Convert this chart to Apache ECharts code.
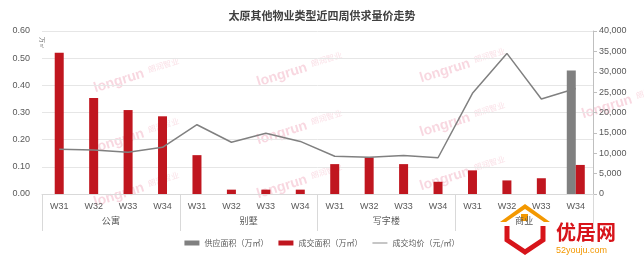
<!DOCTYPE html>
<html>
<head>
<meta charset="utf-8">
<script src="https://cdn.jsdelivr.net/npm/echarts@6/dist/echarts.min.js"></script>
<style>html,body{margin:0;padding:0;background:#fff}#c{width:644px;height:266px}</style>
</head>
<body>
<div id="c"></div>
<script>
const weeks = ['W31','W32','W33','W34','W31','W32','W33','W34','W31','W32','W33','W34','W31','W32','W33','W34'];
const groups = ['公寓','别墅','写字楼','商业'];
const supplyArea = [null,null,null,null,null,null,null,null,null,null,null,null,null,null,null,0.455];
const dealArea = [0.52,0.353,0.309,0.286,0.143,0.016,0.016,0.016,0.11,0.135,0.11,0.045,0.087,0.05,0.058,0.107];
const avgPrice = [11000,10800,10250,11450,17000,12700,14900,12900,9250,9000,9450,8900,24700,34500,23300,25900];
const leftTicks = [0,0.1,0.2,0.3,0.4,0.5,0.6];
const rightTicks = [0,5000,10000,15000,20000,25000,30000,35000,40000];

const nameSupply = '供应面积（万㎡）';
const nameDeal = '成交面积（万㎡）';
const namePrice = '成交均价（元/㎡）';

// split deal series: categories with supply go side by side, others centered
const dealPaired = dealArea.map((v,i)=> supplyArea[i] != null ? v : null);
const dealAlone = dealArea.map((v,i)=> supplyArea[i] != null ? null : v);

const RED = '#C0161F', GRAY = '#808080';
const labelColor = '#595959';

const wm = [];
const wmPos = [[92,82],[255,76],[418,72],[92,142],[255,134],[418,126],[92,196],[255,188],[418,180],[580,108]];
wmPos.forEach(p=>{
  wm.push({type:'text', x:p[0], y:p[1], rotation:0.3, silent:true,
    style:{text:'longrun', fill:'rgba(236,140,165,0.35)', font:'bold 14px "Liberation Sans", Arial'}});
  wm.push({type:'text', x:p[0]+55, y:p[1]-16, rotation:0.3, silent:true,
    style:{text:'朗润智业', fill:'rgba(236,140,165,0.28)', font:'8px "Noto Sans CJK SC"'}});
});

const chart = echarts.init(document.getElementById('c'));
chart.setOption({
  animation:false,
  title:{text:'太原其他物业类型近四周供求量价走势', left:'center', top:5,
    textStyle:{fontSize:11, fontWeight:'bold', color:'#404040', fontFamily:'"Noto Sans CJK SC"'}},
  grid:{left:42, right:51, top:31, bottom:72},
  legend:{bottom:14, left:'center', itemWidth:15, itemHeight:5, itemGap:10,
    textStyle:{fontSize:8, color:labelColor, fontFamily:'"Noto Sans CJK SC"'},
    data:[{name:nameSupply, icon:'rect'},{name:nameDeal, icon:'rect'},
      {name:namePrice, icon:'path://M0,2H20V3.2H0Z', itemStyle:{color:GRAY}}]},
  xAxis:[
    {type:'category', data:weeks, gridIndex:0, position:'bottom',
      axisLine:{lineStyle:{color:'#D9D9D9'}}, axisTick:{show:false},
      axisLabel:{interval:0, margin:8, fontSize:9, color:labelColor, fontFamily:'"Liberation Sans", Arial'}},
    {type:'category', data:weeks, gridIndex:0, show:false},
    {type:'category', data:groups, gridIndex:0, position:'bottom',
      axisLine:{show:false},
      axisTick:{show:true, interval:0, length:37, lineStyle:{color:'#D9D9D9'}},
      axisLabel:{interval:0, margin:22, fontSize:9, color:labelColor, fontFamily:'"Noto Sans CJK SC"'},
      splitLine:{show:false}}
  ],
  yAxis:[
    {type:'value', min:leftTicks[0], max:leftTicks[leftTicks.length-1], interval:0.1,
      name:'万㎡', nameLocation:'end', nameRotate:-90, nameGap:-6,
      nameTextStyle:{fontSize:6, color:labelColor, padding:[0,0,0,0], align:'left'},
      axisLine:{show:false}, axisTick:{show:false},
      axisLabel:{formatter:v=>v.toFixed(2), fontSize:9, color:labelColor, margin:12, fontFamily:'"Liberation Sans", Arial'},
      splitLine:{lineStyle:{color:'#E6E6E6'}}},
    {type:'value', min:rightTicks[0], max:rightTicks[rightTicks.length-1], interval:5000,
      axisLine:{show:true, lineStyle:{color:'#BFBFBF'}}, axisTick:{show:true, length:4, lineStyle:{color:'#BFBFBF'}},
      axisLabel:{formatter:v=>v.toLocaleString('en-US'), fontSize:9, color:labelColor, margin:6, fontFamily:'"Liberation Sans", Arial'},
      splitLine:{show:false}}
  ],
  series:[
    {name:nameSupply, type:'bar', xAxisIndex:0, yAxisIndex:0, data:supplyArea, barWidth:9, barGap:'0%',
      itemStyle:{color:GRAY}},
    {name:nameDeal, type:'bar', xAxisIndex:0, yAxisIndex:0, data:dealPaired, barWidth:9, barGap:'0%',
      itemStyle:{color:RED}},
    {name:nameDeal, type:'bar', xAxisIndex:1, yAxisIndex:0, data:dealAlone, barWidth:9,
      itemStyle:{color:RED}},
    {name:namePrice, type:'line', xAxisIndex:0, yAxisIndex:1, data:avgPrice, symbol:'none',
      lineStyle:{color:GRAY, width:1.5}, itemStyle:{color:GRAY}, z:5}
  ],
  graphic:wm.concat([
    {type:'polygon', silent:true, shape:{points:[[500,222],[525,204],[550,222],[544,222],[525,209],[506,222]]}, style:{fill:'#F39800'}},
    {type:'rect', silent:true, shape:{x:521,y:214,width:7,height:7}, style:{fill:'#F39800'}},
    {type:'polyline', silent:true, shape:{points:[[507,226],[507,240],[525,252],[543,240],[543,226]]}, style:{stroke:'#D7141A', lineWidth:5, fill:null}},
    {type:'text', silent:true, x:556, y:222, style:{text:'优居网', fill:'#D7141A', font:'bold 20px "Noto Sans CJK SC"'}},
    {type:'text', silent:true, x:556, y:246, style:{text:'52youju.com', fill:'#F39800', font:'9px "Liberation Sans", Arial'}}
  ])
});
</script>
</body>
</html>
